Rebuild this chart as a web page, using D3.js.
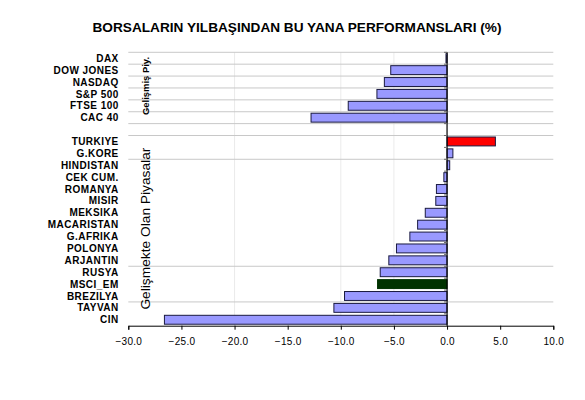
<!DOCTYPE html>
<html><head><meta charset="utf-8">
<script src="https://cdn.jsdelivr.net/npm/d3@7"></script>
<style>body{margin:0;background:#fff}svg{display:block;font-family:"Liberation Sans",Arial,sans-serif}</style>
</head><body>
<script>
const categories = ["DAX","DOW JONES","NASDAQ","S&P 500","FTSE 100","CAC 40","","TURKIYE","G.KORE","HINDISTAN","CEK CUM.","ROMANYA","MISIR","MEKSIKA","MACARISTAN","G.AFRIKA","POLONYA","ARJANTIN","RUSYA","MSCI_EM","BREZILYA","TAYVAN","CIN"];
const values = [-0.1,-5.3,-5.9,-6.6,-9.3,-12.8,null,4.55,0.55,0.25,-0.3,-1.0,-1.06,-2.05,-2.77,-3.5,-4.76,-5.48,-6.29,-6.54,-9.65,-10.65,-26.6];
const xTicks = [-30,-25,-20,-15,-10,-5,0,5,10];
const vGrid = [-20,-10,-5];
const hGridIdx = [0,1,2,3,4,5,6,7,9,18,21];
const groupLabels = [{text:"Gelişmiş Piy.", from:0, to:5, size:9.5, weight:"bold", len:58},{text:"Gelişmekte Olan Piyasalar", from:7, to:22, size:13.5, weight:"normal", len:162}];
const title = "BORSALARIN YILBAŞINDAN BU YANA PERFORMANSLARI (%)";
const highlight = {"TURKIYE":"#ff0000","MSCI_EM":"#003300"};

const W=585,H=400;
const svg=d3.select("body").append("svg").attr("width",W).attr("height",H);
const x=d3.scaleLinear().domain([-30,10]).range([128.3,553.3]);
const y=d3.scaleBand().domain(d3.range(categories.length)).range([52.3,325.7]).paddingInner(0.25).paddingOuter(0.125);
const step=y.step();
const top0=52.3;

svg.append("g").selectAll("line").data(vGrid).join("line")
 .attr("x1",d=>x(d)).attr("x2",d=>x(d)).attr("y1",top0).attr("y2",325.7)
 .attr("stroke","#ebebeb").attr("stroke-width",1);
svg.append("g").selectAll("line").data(hGridIdx).join("line")
 .attr("x1",x(-30)).attr("x2",x(10)).attr("y1",d=>top0+d*step).attr("y2",d=>top0+d*step)
 .attr("stroke","#c8c8c8").attr("stroke-width",1);

const data=categories.map((c,i)=>({c,i,v:values[i]})).filter(d=>d.v!==null);
svg.append("g").selectAll("rect").data(data).join("rect")
 .attr("x",d=>x(Math.min(0,d.v))).attr("width",d=>Math.max(1,Math.abs(x(d.v)-x(0))))
 .attr("y",d=>y(d.i)).attr("height",y.bandwidth())
 .attr("fill",d=>highlight[d.c]||"#9999ff")
 .attr("stroke",d=>d.c==="MSCI_EM"?"#003300":"#1a1a40").attr("stroke-width",1);

svg.append("line").attr("x1",x(0)).attr("x2",x(0)).attr("y1",top0).attr("y2",325.7).attr("stroke","#000").attr("stroke-width",1.2);
svg.append("g").selectAll("line").data(d3.range(categories.length)).join("line")
 .attr("x1",x(0)-3).attr("x2",x(0)).attr("y1",d=>top0+d*step).attr("y2",d=>top0+d*step)
 .attr("stroke","#666").attr("stroke-width",1);

const xa=svg.append("g").attr("transform","translate(0,325.7)")
 .call(d3.axisBottom(x).tickValues(xTicks).tickFormat(d3.format(".1f")).tickSize(4).tickPadding(8));
xa.select(".domain").attr("stroke","#000");
xa.selectAll(".tick line").attr("stroke","#000");
xa.selectAll("text").attr("font-size","10px").attr("font-family","Liberation Sans, Arial, sans-serif").attr("fill","#000").attr("letter-spacing","0.3px");

svg.append("g").selectAll("text").data(data).join("text")
 .attr("x",118.7).attr("y",d=>y(d.i)+y.bandwidth()/2).attr("dy","0.36em")
 .attr("text-anchor","end").attr("font-size","10px").attr("font-weight","bold")
 .attr("letter-spacing","0.45px").text(d=>d.c);

svg.append("g").selectAll("text").data(groupLabels).join("text")
 .attr("transform",d=>`translate(${149+d.size*0.05},${(top0+d.from*step+top0+(d.to+1)*step)/2-2}) rotate(-90)`)
 .attr("text-anchor","middle").attr("font-size",d=>d.size+"px").attr("font-weight",d=>d.weight)
 .attr("textLength",d=>d.len).attr("lengthAdjust","spacingAndGlyphs")
 .text(d=>d.text);

svg.append("text").attr("x",297).attr("y",32).attr("text-anchor","middle")
 .attr("font-size","13px").attr("font-weight","bold")
 .attr("textLength",409).attr("lengthAdjust","spacingAndGlyphs").text(title);
</script>
</body></html>
